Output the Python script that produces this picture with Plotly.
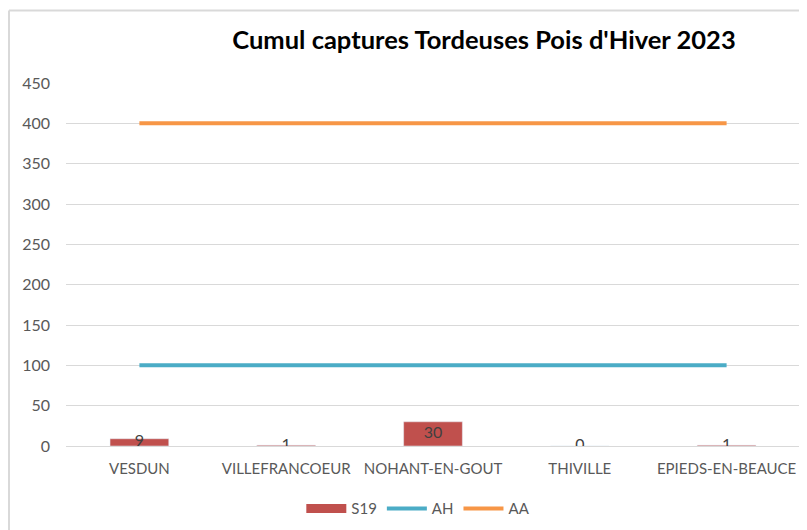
import plotly.graph_objects as go

categories = ["VESDUN", "VILLEFRANCOEUR", "NOHANT-EN-GOUT", "THIVILLE", "EPIEDS-EN-BEAUCE"]
s19 = [9, 1, 30, 0, 1]
ah = [100, 100, 100, 100, 100]
aa = [400, 400, 400, 400, 400]
y_ticks = [0, 50, 100, 150, 200, 250, 300, 350, 400, 450]

FONT = "Lato, Open Sans, sans-serif"

# page body has an 8px margin: size the figure to fit in the remaining window
W, H = 799, 522
L, R, T, B = 58, 7, 75, 84
PW, PH = W - L - R, H - T - B

fig = go.Figure()
fig.add_trace(go.Bar(x=categories, y=s19, name="S19", marker=dict(color="#C0504D"),
                     width=0.4, showlegend=False))
# legend swatch for S19 (wide rectangle like the reference)
fig.add_trace(go.Scatter(x=[None], y=[None], name="S19", mode="lines",
                         line=dict(color="#C0504D", width=9)))
fig.add_trace(go.Scatter(x=categories, y=ah, name="AH", mode="lines",
                         line=dict(color="#4BACC6", width=4)))
fig.add_trace(go.Scatter(x=categories, y=aa, name="AA", mode="lines",
                         line=dict(color="#F79646", width=4)))
fig.add_trace(go.Scatter(x=categories, y=[v / 2 for v in s19], mode="text",
                         text=[str(v) for v in s19], showlegend=False, hoverinfo="skip",
                         textfont=dict(family=FONT, size=16, color="#404040")))

fig.update_layout(
    width=W, height=H,
    margin=dict(l=L, r=R, t=T, b=B, autoexpand=False),
    paper_bgcolor="white", plot_bgcolor="white",
    font=dict(family=FONT, color="#595959", size=14),
    title=dict(text="<b>Cumul captures Tordeuses Pois d'Hiver 2023</b>",
               xref="paper", x=0.5695, xanchor="center",
               yref="container", y=1 - 32 / H, yanchor="middle",
               font=dict(family=FONT, size=25.5, color="#000000")),
    showlegend=True,
    legend=dict(orientation="h", x=0.48, xanchor="center", y=-0.173, yanchor="middle",
                font=dict(family=FONT, size=15, color="#595959"), traceorder="normal",
                itemwidth=40),
    bargap=0.6,
)
fig.update_xaxes(type="category", range=[-0.5, 4.5], showgrid=False, showline=False,
                 ticks="", ticklabelstandoff=12,
                 tickfont=dict(family=FONT, size=15, color="#595959"))
fig.update_yaxes(range=[0, 450], tickvals=y_ticks, showgrid=True, gridcolor="#D9D9D9",
                 gridwidth=1, zeroline=True, zerolinecolor="#D9D9D9", zerolinewidth=1,
                 showline=False, ticks="", ticklabelstandoff=15,
                 tickfont=dict(family=FONT, size=16, color="#595959"))

# chart border (top and left edges visible)
bx = (1 - L) / PW
by = 1 + (T - 2.5) / PH
fig.add_shape(type="line", xref="paper", yref="paper",
              x0=bx, x1=1.02, y0=by, y1=by,
              line=dict(color="#D9D9D9", width=2))
fig.add_shape(type="line", xref="paper", yref="paper",
              x0=bx, x1=bx, y0=by, y1=-0.25,
              line=dict(color="#D9D9D9", width=2))

fig.write_html("out.html")
